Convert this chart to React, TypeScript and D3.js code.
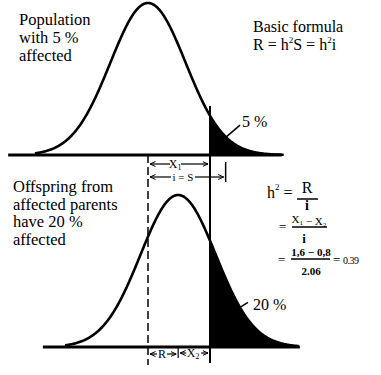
import React from "react";
import * as d3 from "d3";

// liability scale in standard deviations of the population
const threshold = 1.645; // X1 : mean -> threshold
const selection = 2.06; // i = S : mean of affected
const means = [0, 0.8]; // population, offspring (R = 0.8)
const curveSpan = [
  [-3, 3.6],
  [-3, 3.2],
];
const baseSpan = [
  [-3.71, 3.55],
  [-2.79, 4.03],
];
const leaderAt = [2.07, 1.64]; // where the % labels point, sd from each mean
const populationLabel = ["Population", "with 5 %", "affected"];
const offspringLabel = ["Offspring from", "affected parents", "have 20 %", "affected"];
const tailLabels = ["5 %", "20 %"];

const W = 381;
const H = 375;
const serif = '"Liberation Serif", serif';

const pdf = (z: number) => Math.exp(-0.5 * z * z) / Math.sqrt(2 * Math.PI);

const x = d3.scaleLinear().domain([0, threshold]).range([148, 210]);
const yScales = [
  d3.scaleLinear().domain([0, pdf(0)]).range([155, 3]),
  d3.scaleLinear().domain([0, pdf(0)]).range([347, 195]),
];

const Sub = ({ c }: { c: string }) => (
  <>
    <tspan fontSize="0.65em" dy="2">
      {c}
    </tspan>
    <tspan dy="-2"></tspan>
  </>
);

const App = () => {
  const panels = means.map((m, k) => {
    const y = yScales[k];
    const pts = d3.range(curveSpan[k][0], curveSpan[k][1] + 0.001, 0.02).map((d) => m + d);
    const tail = pts.filter((z) => z >= threshold);
    tail.unshift(threshold);
    const line = d3
      .line<number>()
      .x((z) => x(z))
      .y((z) => y(pdf(z - m)));
    const area = d3
      .area<number>()
      .x((z) => x(z))
      .y0(y(0))
      .y1((z) => y(pdf(z - m)));
    const lz = m + leaderAt[k];
    const lx = x(lz);
    const ly = y(pdf(leaderAt[k]));
    return (
      <g key={k}>
        <path d={area(tail) || ""} fill="#000" />
        <path d={line(pts) || ""} fill="none" stroke="#000" strokeWidth={2.6} />
        <line x1={x(baseSpan[k][0])} x2={x(baseSpan[k][1])} y1={y(0)} y2={y(0)} stroke="#000" strokeWidth={3} />
        <line x1={lx} y1={ly} x2={lx + (k ? 8 : 14)} y2={ly - (k ? 5 : 12)} stroke="#000" strokeWidth={1.5} />
        <text x={lx + (k ? 13 : 16)} y={ly - (k ? -3 : 10)} fontSize={16} style={{ fontFamily: serif }}>
          {tailLabels[k]}
        </text>
      </g>
    );
  });

  const arrow = (x1: number, x2: number, yy: number, gap: [number, number]) => (
    <g stroke="#000" strokeWidth={1.2} fill="none">
      <line x1={x1} x2={gap[0]} y1={yy} y2={yy} markerStart="url(#ah)" />
      <line x1={gap[1]} x2={x2} y1={yy} y2={yy} markerEnd="url(#ah)" />
    </g>
  );

  const yb = yScales[1](0);
  const yt = yScales[0](0);

  return (
    <svg width={W} height={H} style={{ position: "absolute", left: 0, top: 0, background: "#fff" }}>
      <defs>
        <marker id="ah" viewBox="0 0 6 6" refX="5.5" refY="3" markerWidth="6" markerHeight="6" orient="auto-start-reverse" markerUnits="userSpaceOnUse">
          <path d="M0,0.5 L5.5,3 L0,5.5" fill="none" stroke="#000" strokeWidth={1} />
        </marker>
      </defs>
      {panels}
      {/* threshold and population mean */}
      <line x1={x(threshold)} x2={x(threshold)} y1={106} y2={yb + 16} stroke="#000" strokeWidth={2} />
      <line x1={x(0)} x2={x(0)} y1={yt} y2={yb + 18} stroke="#000" strokeWidth={1.5} strokeDasharray="8 4" />
      <line x1={x(selection)} x2={x(selection)} y1={162} y2={182} stroke="#000" strokeWidth={1.5} />
      <line x1={x(means[1])} x2={x(means[1])} y1={yb + 1} y2={yb + 11} stroke="#000" strokeWidth={1.2} />

      {arrow(x(0) + 2, x(threshold) - 2, 164, [x(0) + 22, x(0) + 33])}
      {arrow(x(0) + 2, x(selection) - 2, 177, [x(0) + 23, x(0) + 47])}
      {arrow(x(0) + 2, x(means[1]) - 2, 354, [x(0) + 9, x(0) + 19])}
      {arrow(x(means[1]) + 2, x(threshold) - 2, 353, [x(means[1]) + 8, x(means[1]) + 23])}

      <g fill="#000" style={{ fontFamily: serif }}>
        <text x={x(0) + 27} y={168} fontSize={12} textAnchor="middle">
          X<Sub c="1" />
        </text>
        <text x={x(0) + 35} y={181} fontSize={11} textAnchor="middle">
          i = S
        </text>
        <text x={x(0) + 14} y={358} fontSize={12} textAnchor="middle">
          R
        </text>
        <text x={x(means[1]) + 15} y={357} fontSize={12} textAnchor="middle">
          X<Sub c="2" />
        </text>

        {populationLabel.map((s, i) => (
          <text key={s} x={19} y={25 + i * 18} fontSize={16.5}>
            {s}
          </text>
        ))}
        {offspringLabel.map((s, i) => (
          <text key={s + i} x={13} y={192 + i * 17.5} fontSize={16.5}>
            {s}
          </text>
        ))}

        <text x={253} y={32} fontSize={16}>
          Basic formula
        </text>
        <text x={253} y={50} fontSize={16}>
          R = h
          <tspan fontSize={9} dy={-7}>
            2
          </tspan>
          <tspan dy={7}>S = h</tspan>
          <tspan fontSize={9} dy={-7}>
            2
          </tspan>
          <tspan dy={7}>i</tspan>
        </text>

        {/* h² = R / i */}
        <text x={267} y={198} fontSize={16}>
          h
          <tspan fontSize={9} dy={-8}>
            2
          </tspan>
          <tspan dy={8}> =</tspan>
        </text>
        <text x={307} y={193} fontSize={16} textAnchor="middle">
          R
        </text>
        <line x1={297} x2={318} y1={199} y2={199} stroke="#000" strokeWidth={1.5} />
        <text x={307} y={210} fontSize={14} fontWeight="bold" textAnchor="middle">
          i
        </text>

        <text x={279} y={231} fontSize={13}>
          =
        </text>
        <text x={309} y={223} fontSize={11} textAnchor="middle">
          X<Sub c="1" /> − X<Sub c="2" />
        </text>
        <line x1={292} x2={327} y1={227} y2={227} stroke="#000" strokeWidth={1.5} />
        <text x={304} y={243} fontSize={13} fontWeight="bold" textAnchor="middle">
          i
        </text>

        <text x={278} y={264} fontSize={13}>
          =
        </text>
        <text x={311} y={256} fontSize={11} fontWeight="bold" textAnchor="middle">
          1,6 − 0,8
        </text>
        <line x1={291} x2={330} y1={259} y2={259} stroke="#000" strokeWidth={1.5} />
        <text x={311} y={275} fontSize={11} fontWeight="bold" textAnchor="middle">
          2.06
        </text>
        <text x={333} y={264} fontSize={13}>
          =
        </text>
        <text x={343} y={264} fontSize={10} letterSpacing={-0.5}>
          0.39
        </text>
      </g>
    </svg>
  );
};

export default App;
